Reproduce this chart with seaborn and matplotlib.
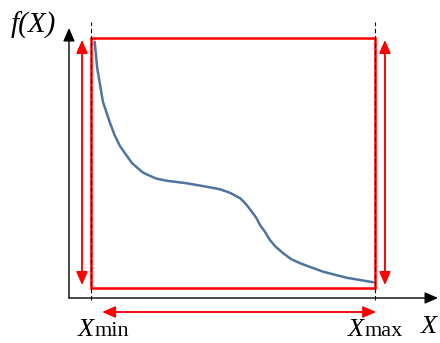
import pandas as pd
import matplotlib.pyplot as plt
import seaborn as sns
from matplotlib.patches import Rectangle

# curve, x scaled so Xmin = 0 and Xmax = 1, f scaled to the red box
x_vals = [0.013, 0.022, 0.042, 0.067, 0.083, 0.102, 0.124, 0.144, 0.165, 0.183, 0.201,
          0.229, 0.267, 0.337, 0.407, 0.454, 0.489, 0.525, 0.539, 0.553, 0.567, 0.583,
          0.595, 0.613, 0.630, 0.651, 0.677, 0.704, 0.736, 0.818, 0.900, 0.994]
fx_vals = [0.985, 0.879, 0.745, 0.660, 0.612, 0.568, 0.532, 0.500, 0.479, 0.462, 0.452,
           0.438, 0.429, 0.419, 0.405, 0.395, 0.381, 0.359, 0.344, 0.325, 0.304, 0.279,
           0.252, 0.224, 0.192, 0.164, 0.139, 0.116, 0.099, 0.065, 0.041, 0.023]

y_label = "f(X)"
x_label = "X"
x_sym = "X"
sub_min = "min"
sub_max = "max"

sns.set_style("white")
plt.rcParams["font.family"] = ["Liberation Serif", "DejaVu Serif"]
plt.rcParams["text.color"] = "black"

fig = plt.figure(figsize=(4.4, 3.43), dpi=100)
ax = fig.add_axes([0, 0, 1, 1])
ax.set_xlim(-0.3204, 1.2289)
ax.set_ylim(-0.22, 1.152)
ax.axis("off")

df = pd.DataFrame({"x": x_vals, "fx": fx_vals})
sns.lineplot(data=df, x="x", y="fx", color="#4e75a0", lw=1.8, ax=ax, sort=False, zorder=3)
ax.lines[-1].set_solid_joinstyle("round")

# red box around the range of f
ax.add_patch(Rectangle((0, 0), 1, 1, fill=False, ec="red", lw=1.8, zorder=2))

# dashed markers at Xmin and Xmax
for xv in [0, 1]:
    ax.plot([xv, xv], [-0.048, 1.064], color="black", ls=(0, (4, 2.5)), lw=0.8, zorder=4)

# coordinate axes
ax_head = dict(arrowstyle="-|>,head_length=0.8,head_width=0.35", color="black", lw=1.0,
               shrinkA=0, shrinkB=0, mutation_scale=10)
ax.annotate("", xy=(-0.0775, 1.04), xytext=(-0.0775, -0.04), arrowprops=ax_head)
ax.annotate("", xy=(1.222, -0.04), xytext=(-0.0775, -0.04), arrowprops=ax_head)


def red_arrow(p0, p1, vertical):
    props = dict(arrowstyle="<|-|>,head_length=0.8,head_width=0.35", color="red", lw=1.2,
                 shrinkA=0, shrinkB=0, mutation_scale=10)
    ax.annotate("", xy=p1, xytext=p0, arrowprops=props)
    # darker shaft between the heads
    if vertical:
        d = 0.044
        ax.plot([p0[0], p1[0]], [p0[1] + d, p1[1] - d], color="#b85050", lw=1.2)
    else:
        d = 0.039
        ax.plot([p0[0] + d, p1[0] - d], [p0[1], p1[1]], color="#b85050", lw=1.2)


red_arrow((-0.0317, 0.012), (-0.0317, 0.992), True)
red_arrow((1.035, 0.012), (1.035, 0.992), True)
red_arrow((0.039, -0.096), (1.004, -0.096), False)

# labels
ax.text(-0.282, 1.02, y_label, fontsize=21, style="italic", va="baseline", ha="left")
t1 = ax.text(-0.046, -0.19, x_sym, fontsize=19, style="italic", va="baseline", ha="left")
ax.annotate(sub_min, xy=(1.0, 0.0), xycoords=t1, fontsize=16, va="bottom", ha="left")
t2 = ax.text(0.905, -0.19, x_sym, fontsize=19, style="italic", va="baseline", ha="left")
ax.annotate(sub_max, xy=(1.0, 0.0), xycoords=t2, fontsize=16, va="bottom", ha="left")
ax.text(1.162, -0.18, x_label, fontsize=19, style="italic", va="baseline", ha="left")

fig.savefig("out.png", dpi=100)
